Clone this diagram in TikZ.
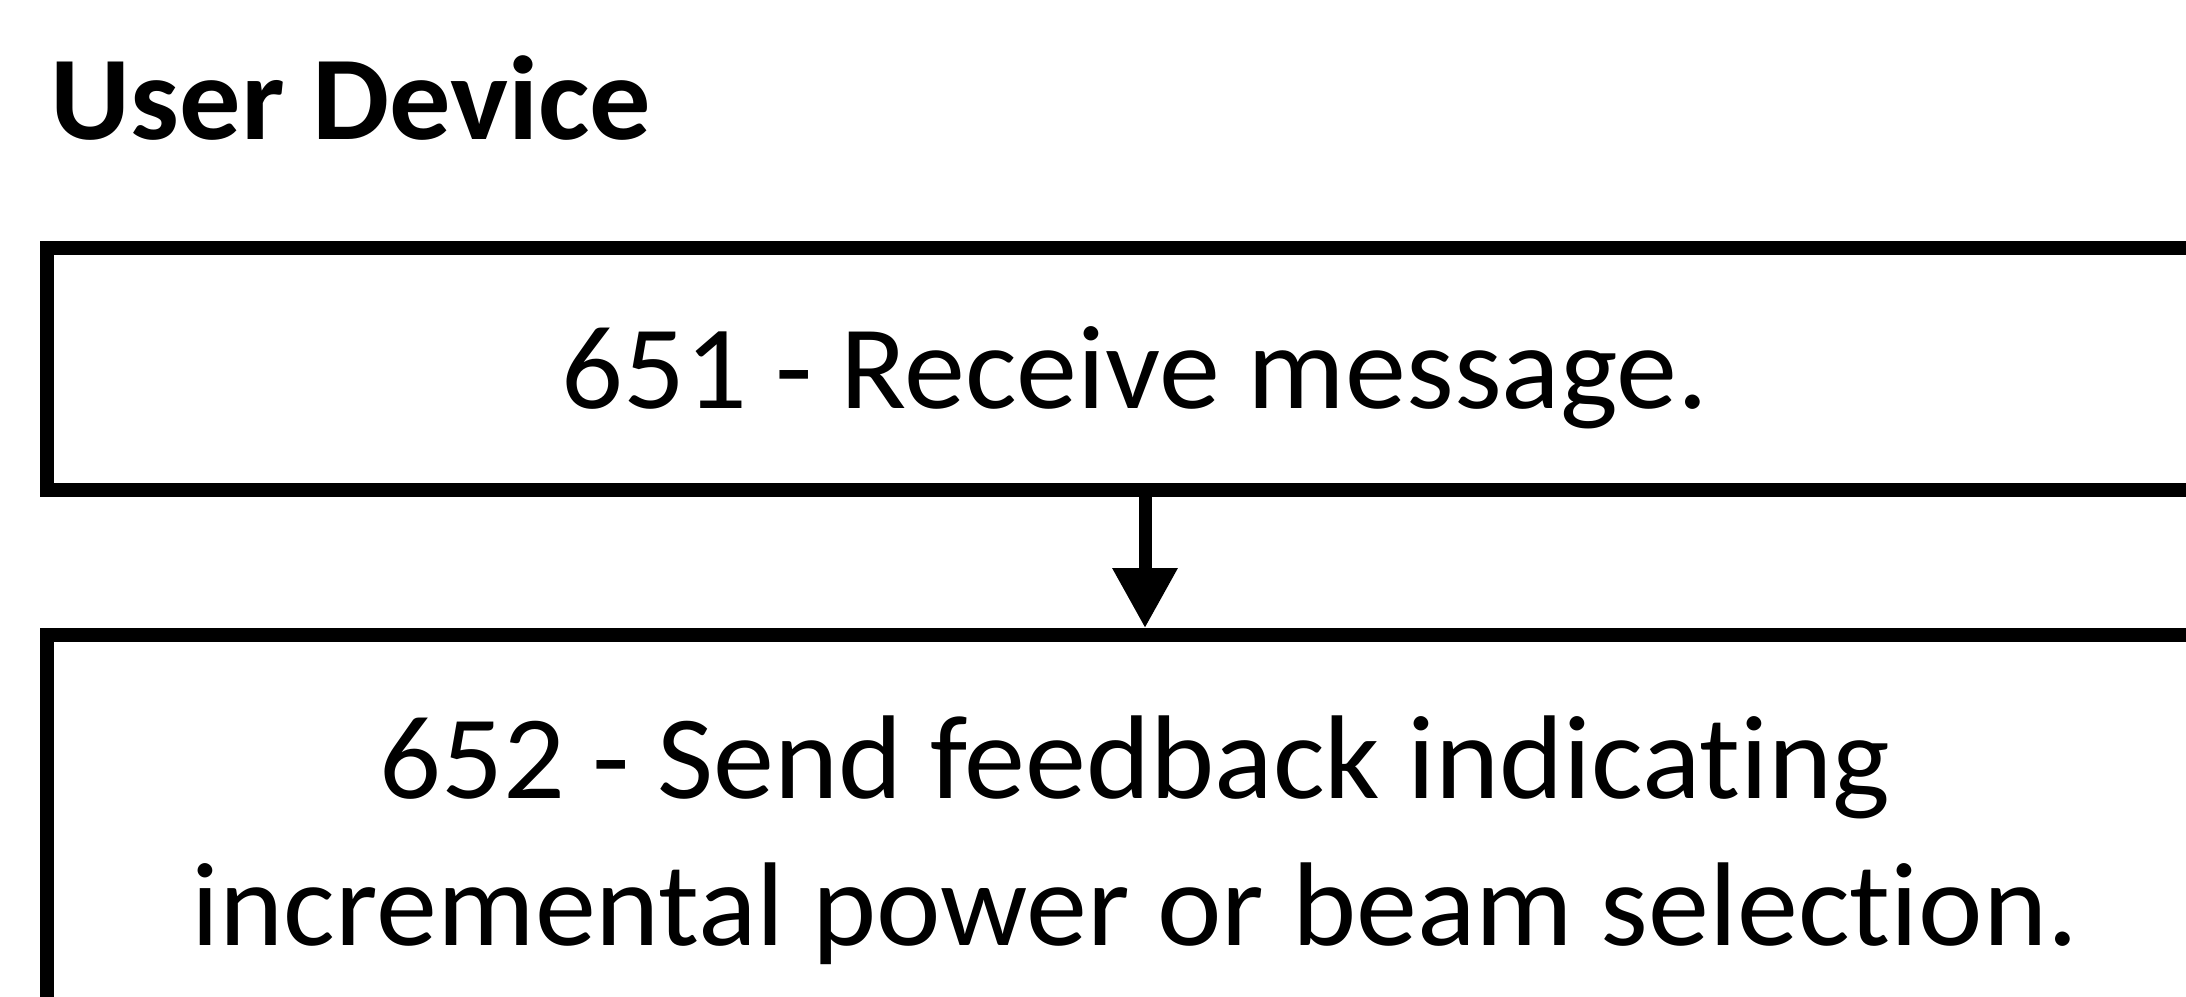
\documentclass[tikz,border=0pt]{standalone}
\usepackage{fontspec}
\setmainfont[Ligatures=NoCommon,FakeStretch=1.025]{Carlito}
\usepackage{tikz}
\usetikzlibrary{arrows.meta,positioning}

\begin{document}
\begin{tikzpicture} [
       flowstep/.style 2 args = {rectangle, minimum width=#1, minimum height=#2,
                                 line width=4pt, draw=black, fill=white, align=center,
                                 font=\fontsize{33.9}{41.7}\selectfont,
                                 text height=0.80cm, text depth=0cm},
       flowarrow/.style = {line width=3.7pt, -{Triangle[width=0.62cm,length=0.6cm]}}]
	\useasboundingbox (0,0) rectangle (21.86,-9.97);
	\clip (0,0) rectangle (21.86,-9.97);
	%% Title
	\node [anchor=base west, inner sep=0pt, font=\fontsize{34}{40}\selectfont\bfseries]
	      (dev) at (0.50,-1.40) {User Device};
	%% Steps
	\node [flowstep={21.76cm}{2.42cm}] (recv) at (11.35,-3.69) {651 - Receive message.};
	\node [flowstep={21.76cm}{5.40cm}, below=1.31cm of recv] (fb)
	      {652 - Send feedback indicating\\incremental power or beam selection.};
	\draw [flowarrow] ([xshift=0.10cm]recv.south) -- ([xshift=0.10cm]fb.north);
\end{tikzpicture}
\end{document}
